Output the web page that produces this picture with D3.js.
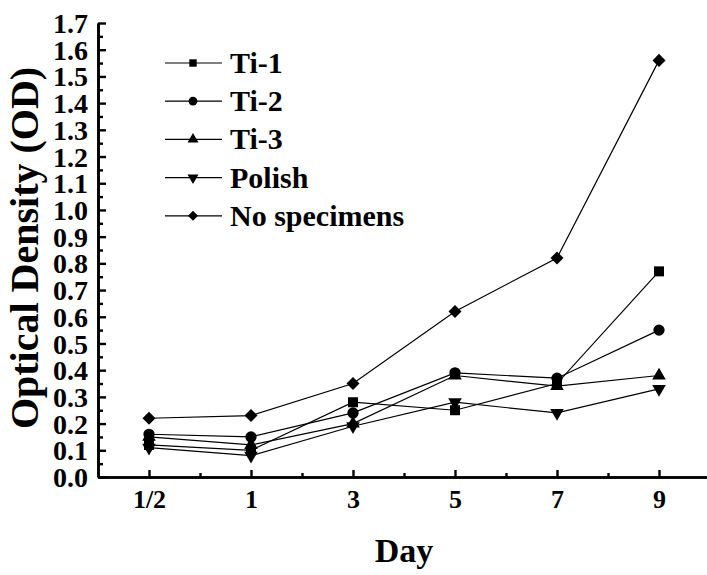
<!DOCTYPE html>
<html>
<head>
<meta charset="utf-8">
<script src="https://cdn.jsdelivr.net/npm/d3@7"></script>
<style>
  body { margin: 0; background: #fff; }
  svg text { font-family: "Liberation Serif", "Times New Roman", serif; font-weight: bold; fill: #000; }
</style>
</head>
<body>
<div id="chart"></div>
<script>
var days = ["1/2", "1", "3", "5", "7", "9"];
var seriesNames = ["Ti-1", "Ti-2", "Ti-3", "Polish", "No specimens"];
var ti1 = [0.12, 0.10, 0.28, 0.25, 0.35, 0.77];
var ti2 = [0.16, 0.15, 0.24, 0.39, 0.37, 0.55];
var ti3 = [0.15, 0.12, 0.20, 0.38, 0.34, 0.38];
var polish = [0.11, 0.08, 0.19, 0.28, 0.24, 0.33];
var noSpecimens = [0.22, 0.23, 0.35, 0.62, 0.82, 1.56];
var yTicks = [0.0, 0.1, 0.2, 0.3, 0.4, 0.5, 0.6, 0.7, 0.8, 0.9, 1.0, 1.1, 1.2, 1.3, 1.4, 1.5, 1.6, 1.7];

var allSeries = [ti1, ti2, ti3, polish, noSpecimens];
// marker type per series: square, circle, triangle, down triangle, diamond
var markers = [
  { type: d3.symbolSquare, size: 100, rot: 0, lsize: 55 },
  { type: d3.symbolCircle, size: 100, rot: 0, lsize: 60 },
  { type: d3.symbolTriangle, size: 80, rot: 0, lsize: 52 },
  { type: d3.symbolTriangle, size: 80, rot: 180, lsize: 52 },
  { type: d3.symbolSquare, size: 85, rot: 45, lsize: 50 }
];

var width = 707, height = 575;
var plotLeft = 98, plotTop = 23, plotBottom = 477;

var svg = d3.select("#chart").append("svg")
  .attr("width", width)
  .attr("height", height);

// x: category index, half a step of padding on each side
var x = d3.scaleLinear().domain([-0.5, days.length - 0.5]).range([plotLeft, 710]);
var y = d3.scaleLinear().domain([0, 1.7]).range([plotBottom, plotTop]);

var x_axis = d3.axisBottom(x)
  .tickValues(d3.range(days.length))
  .tickFormat(function (i) { return days[i]; })
  .tickSizeInner(-7).tickSizeOuter(0).tickPadding(13);

var x_minor = d3.axisBottom(x)
  .tickValues(d3.range(days.length - 1).map(function (i) { return i + 0.5; }))
  .tickFormat("").tickSizeInner(-4).tickSizeOuter(0);

var y_axis = d3.axisLeft(y)
  .tickValues(yTicks)
  .tickFormat(d3.format(".1f"))
  .tickSizeInner(-8).tickSizeOuter(0).tickPadding(10);

var y_minor = d3.axisLeft(y)
  .tickValues(d3.range(17).map(function (i) { return i / 10 + 0.05; }))
  .tickFormat("").tickSizeInner(-5).tickSizeOuter(0);

function styleAxis(g, fs) {
  g.select(".domain").attr("stroke", "#000").attr("stroke-width", 2.6);
  g.selectAll(".tick line").attr("stroke", "#000").attr("stroke-width", 2.4);
  g.selectAll(".tick text").style("font-size", fs + "px").attr("font-family", null);
}

svg.append("g").attr("transform", "translate(0," + plotBottom + ")").call(x_minor).call(styleAxis, 26);
svg.append("g").attr("class", "x axis").attr("transform", "translate(0," + plotBottom + ")").call(x_axis).call(styleAxis, 26);
svg.append("g").attr("transform", "translate(" + plotLeft + ",0)").call(y_minor).call(styleAxis, 28);
svg.append("g").attr("class", "y axis").attr("transform", "translate(" + plotLeft + ",0)").call(y_axis).call(styleAxis, 28);

svg.selectAll(".y.axis .tick text").attr("dy", "0.34em");

// axis titles
svg.append("text")
  .text("Day")
  .attr("x", (x(0) + x(days.length - 1)) / 2)
  .attr("y", 562)
  .attr("text-anchor", "middle")
  .style("font-size", "34px");

svg.append("text")
  .text("Optical Density (OD)")
  .attr("text-anchor", "middle")
  .attr("transform", "translate(38,248) rotate(-90)")
  .style("font-size", "40px");

// lines
var line = d3.line()
  .x(function (d, i) { return x(i); })
  .y(function (d) { return y(d); });

svg.selectAll(".series")
  .data(allSeries)
  .enter()
  .append("path")
  .attr("class", "series")
  .attr("d", line)
  .attr("fill", "none")
  .attr("stroke", "#000")
  .attr("stroke-width", 1.2);

// markers
allSeries.forEach(function (s, k) {
  var m = markers[k];
  svg.append("g").selectAll("path")
    .data(s)
    .enter()
    .append("path")
    .attr("d", d3.symbol().type(m.type).size(m.size))
    .attr("transform", function (d, i) {
      return "translate(" + x(i) + "," + y(d) + ") rotate(" + m.rot + ")";
    })
    .attr("fill", "#000");
});

// legend
var legend = svg.append("g").attr("transform", "translate(165,63)");
seriesNames.forEach(function (name, k) {
  var m = markers[k];
  var row = legend.append("g").attr("transform", "translate(0," + (k * 38.2) + ")");
  row.append("line").attr("x1", 0).attr("x2", 57).attr("y1", 0).attr("y2", 0)
    .attr("stroke", "#000").attr("stroke-width", 1.2);
  row.append("path")
    .attr("d", d3.symbol().type(m.type).size(m.lsize))
    .attr("transform", "translate(28,0) rotate(" + m.rot + ")")
    .attr("fill", "#000");
  row.append("text").text(name).attr("x", 65).attr("y", 10).style("font-size", "30px");
});
</script>
</body>
</html>
